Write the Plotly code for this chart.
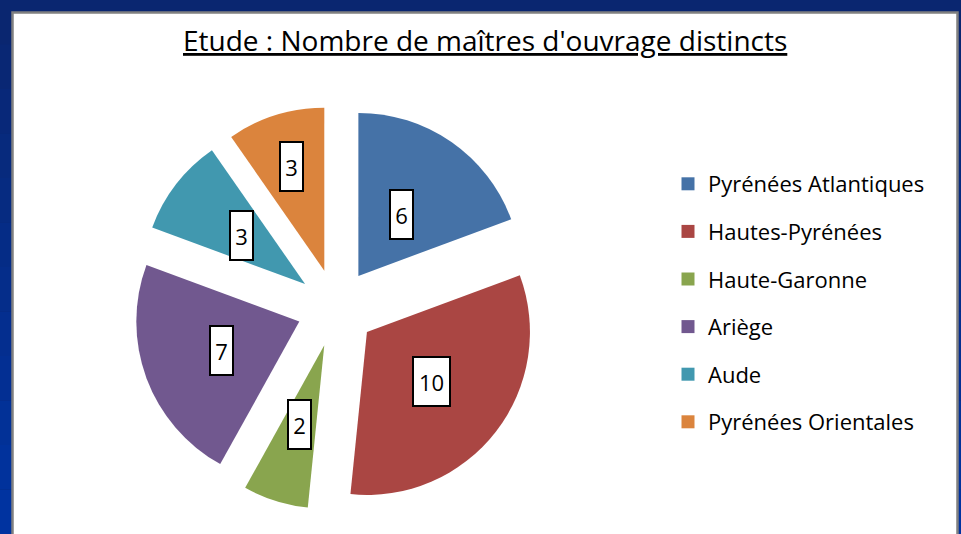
import math
import plotly.graph_objects as go

# ---------------- data ----------------
labels = ["Pyrénées Atlantiques", "Hautes-Pyrénées", "Haute-Garonne", "Ariège", "Aude", "Pyrénées Orientales"]
values = [6, 10, 2, 7, 3, 3]
colors = ["#4572A7", "#AA4643", "#89A54E", "#71588F", "#4198AF", "#DB843D"]
title_text = "Etude : Nombre de maîtres d'ouvrage distincts"

# ---------------- geometry / style ----------------
W, H = 961, 534
CX, CY = 336.0, 308.0          # pie centre (px)
R = 163.0                      # slice radius (px)
PULL = 0.24
HALF = R * (1 + PULL)
label_frac = [0.46, 0.50, 0.51, 0.51, 0.49, 0.67]   # radial placement of value boxes
FONT = "Open Sans, Noto Sans, DejaVu Sans, sans-serif"

fig = go.Figure()

fig.add_trace(go.Pie(
    labels=labels, values=values, sort=False, direction="clockwise", rotation=0,
    marker=dict(colors=colors, line=dict(width=0)),
    pull=[PULL] * len(values), textinfo="none", hoverinfo="label+value",
    showlegend=False,
    domain=dict(x=[(CX - HALF) / W, (CX + HALF) / W], y=[1 - (CY + HALF) / H, 1 - (CY - HALF) / H]),
))

# legend entries (one per slice) so the spacing can match
for lab, col in zip(labels, colors):
    fig.add_trace(go.Scatter(
        x=[None], y=[None], mode="markers", name=lab, legendgroup=lab,
        marker=dict(symbol="square", size=13, color=col), showlegend=True,
    ))

# value boxes
total = sum(values)
cum = 0
annotations = []
for v, f in zip(values, label_frac):
    mid = (cum + v / 2) / total * 2 * math.pi
    cum += v
    dx, dy = math.sin(mid), -math.cos(mid)
    d = PULL * R + f * R
    px, py = CX + d * dx, CY + d * dy
    txt = str(v)
    annotations.append(dict(
        x=px / W, y=1 - py / H, xref="paper", yref="paper", text=txt, showarrow=False,
        font=dict(family=FONT, size=22, color="black"),
        bgcolor="white", bordercolor="black", borderwidth=2, borderpad=2,
        width=17 if len(txt) == 1 else 31, height=43,
        xanchor="center", yanchor="middle",
    ))

# title
annotations.append(dict(
    x=485 / W, y=1 - 40 / H, xref="paper", yref="paper", showarrow=False,
    text="<u>" + title_text + "</u>", font=dict(family=FONT, size=28, color="black"),
    xanchor="center", yanchor="middle",
))

# background: blue slide with white chart area
shapes = []
top_col = (10, 38, 112)
bot_col = (0, 51, 160)
n = 12
for i in range(n):
    t = i / (n - 1)
    c = tuple(int(round(top_col[k] + (bot_col[k] - top_col[k]) * t)) for k in range(3))
    shapes.append(dict(type="rect", xref="paper", yref="paper", layer="below",
                       x0=0, x1=1, y0=1 - (i + 1) / n, y1=1 - i / n,
                       fillcolor="rgb(%d,%d,%d)" % c, line=dict(width=0)))
shapes.append(dict(type="rect", xref="paper", yref="paper", layer="below",
                   x0=12.5 / W, x1=957.5 / W, y0=-0.05, y1=1 - 12.5 / H,
                   fillcolor="white", line=dict(color="#808080", width=2.5)))

fig.update_layout(
    width=W, height=H, autosize=False,
    margin=dict(l=0, r=0, t=0, b=0),
    paper_bgcolor="#0A2670", plot_bgcolor="rgba(0,0,0,0)",
    xaxis=dict(visible=False), yaxis=dict(visible=False),
    shapes=shapes, annotations=annotations,
    legend=dict(x=668 / W, y=1 - 163 / H, xanchor="left", yanchor="top",
                font=dict(family=FONT, size=22, color="black"),
                bgcolor="rgba(0,0,0,0)", tracegroupgap=16, itemclick=False),
    hovermode=False,
)

fig.write_html("out.html", config={"displayModeBar": False},
               post_script="document.body.style.margin='0';document.body.style.overflow='hidden';")
